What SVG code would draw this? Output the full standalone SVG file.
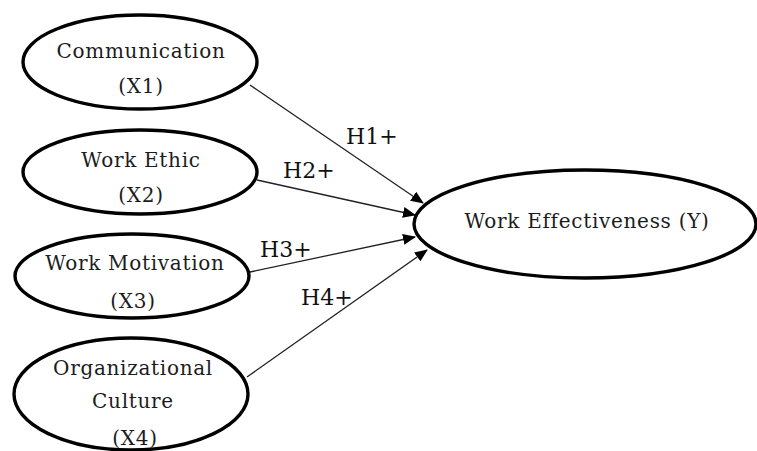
<svg xmlns="http://www.w3.org/2000/svg" width="757" height="451" viewBox="0 0 757 451">
  <style>
    .node ellipse { fill: #ffffff; stroke: #000000; stroke-width: 3.4; }
    .node text { font-family: "DejaVu Serif", "Liberation Serif", serif; font-size: 20px; letter-spacing: 0.7px; fill: #1c1c1c; text-anchor: middle; }
    .edge { stroke: #222222; stroke-width: 1.3; fill: none; marker-end: url(#arrow); }
    .lbl { font-family: "DejaVu Serif", "Liberation Serif", serif; font-size: 22px; fill: #111111; }
  </style>
  <defs>
    <marker id="arrow" markerWidth="13" markerHeight="11" refX="12" refY="5.5" orient="auto" markerUnits="userSpaceOnUse">
      <path d="M0,0 L13,5.5 L0,11 Z" fill="#000000"/>
    </marker>
  </defs>

  <g id="connectors">
    <line class="edge" x1="250" y1="85" x2="423" y2="203"/>
    <line class="edge" x1="257" y1="180" x2="415" y2="215"/>
    <line class="edge" x1="250" y1="272" x2="415" y2="237"/>
    <line class="edge" x1="247" y1="377" x2="427" y2="250"/>
    <text class="lbl" x="346" y="144">H1+</text>
    <text class="lbl" x="283" y="178">H2+</text>
    <text class="lbl" x="260" y="257">H3+</text>
    <text class="lbl" x="301" y="305">H4+</text>
  </g>

  <g id="x1" class="node">
    <ellipse cx="140" cy="62" rx="117" ry="47"/>
    <text x="141" y="58">Communication</text>
    <text x="141" y="93">(X1)</text>
  </g>
  <g id="x2" class="node">
    <ellipse cx="140" cy="172" rx="117" ry="42"/>
    <text x="141" y="167">Work Ethic</text>
    <text x="141" y="202">(X2)</text>
  </g>
  <g id="x3" class="node">
    <ellipse cx="132" cy="276" rx="117" ry="42"/>
    <text x="135" y="270">Work Motivation</text>
    <text x="133" y="308">(X3)</text>
  </g>
  <g id="x4" class="node">
    <ellipse cx="131" cy="394" rx="117" ry="56"/>
    <text x="133" y="375">Organizational</text>
    <text x="133" y="408">Culture</text>
    <text x="135" y="445">(X4)</text>
  </g>
  <g id="y" class="node">
    <ellipse cx="585" cy="224" rx="171" ry="54"/>
    <text x="587" y="228">Work Effectiveness (Y)</text>
  </g>
</svg>
